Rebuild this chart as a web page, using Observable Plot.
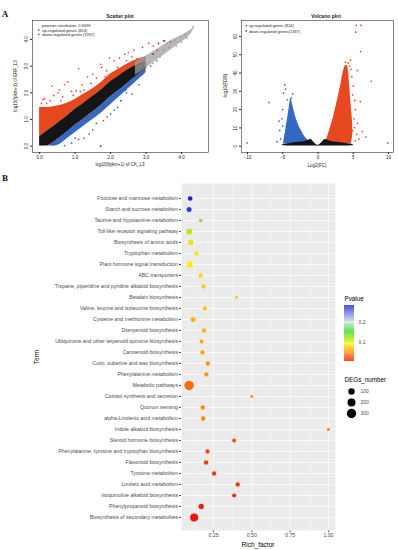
<!DOCTYPE html>
<html>
<head>
<meta charset="utf-8">
<script src="https://cdn.jsdelivr.net/npm/d3@7"></script>
<script src="https://cdn.jsdelivr.net/npm/@observablehq/plot@0.6"></script>
<style>
  html, body { margin: 0; padding: 0; background: #fff; }
  #fig { position: relative; width: 398px; height: 550px; overflow: hidden; background:#fff; }
  #fig > svg, #fig > figure { position: absolute; margin: 0; }
</style>
</head>
<body>
<div id="fig"></div>
<script>
// ================= DATA =================
// ---- Panel A: scatter plot (log10(fpkm+1) of CK_L3 vs treatment) ----
const scTicks = [0, 1, 2, 3, 4];
// dense bands read along x
const scBandX    = [0, 0.1, 0.25, 0.5, 0.75, 1.0, 1.25, 1.5, 1.75, 2.0, 2.25, 2.5, 2.75, 3.0];
const scRedTop   = [1.45, 1.45, 1.45, 1.5, 1.6, 1.75, 1.95, 2.15, 2.4, 2.7, 2.9, 3.1, 3.25, 3.35];
const scBlackTop = [0.35, 0.45, 0.6, 0.85, 1.1, 1.38, 1.62, 1.87, 2.12, 2.42, 2.65, 2.87, 3.05, 3.2];
const scBlackBot = [0, 0, 0.02, 0.25, 0.5, 0.78, 1.03, 1.28, 1.55, 1.85, 2.1, 2.38, 2.65, 2.9];
const scBlueBot  = [0, 0, 0, 0.02, 0.25, 0.5, 0.75, 1.0, 1.25, 1.55, 1.85, 2.15, 2.45, 2.75];
const scGreyX    = [2.7, 3.0, 3.3, 3.6, 3.9, 4.2, 4.35];
const scGreyBot  = [2.65, 2.92, 3.22, 3.5, 3.8, 4.1, 4.38];
const scGreyTop  = [3.15, 3.38, 3.62, 3.88, 4.08, 4.3, 4.45];
// sparse points
const scUpPts = [[0.05,1.6],[0.1,1.75],[0.14,1.78],[0.2,1.6],[0.3,1.7],[0.4,1.9],[0.52,2.0],[0.56,2.11],[0.65,1.85],
  [0.8,2.4],[0.9,2.05],[1.03,2.07],[1.1,2.9],[1.2,2.3],[1.35,2.6],[1.5,2.7],[1.6,2.55],[1.72,3.07],[1.75,2.95],
  [1.89,2.83],[1.97,3.31],[2.1,3.2],[2.25,3.3],[2.4,3.45],[2.5,3.5],[2.66,3.6],[2.75,3.27],[2.9,3.7],[3.08,3.86],
  [3.2,3.75],[3.31,3.6],[3.53,3.94],[3.69,3.9],[0.35,2.25],[0.7,2.3],[1.25,2.1],[1.45,2.35],[1.85,2.6],[2.2,2.95],
  [0.6,1.7],[0.95,1.9],[2.45,3.2],[2.6,3.35],[1.15,2.05]];
const scDownPts = [[1.25,0.3],[1.5,0.6],[1.8,0.95],[2.0,1.2],[2.2,1.45],[2.3,1.7],[2.45,2.0],[2.56,2.35],[2.7,2.5],
  [2.9,2.7],[3.13,3.0],[3.3,3.2],[0.9,0.12],[1.1,0.25],[1.4,0.45],[1.9,1.1],[2.6,1.95],[2.42,2.09],[2.28,1.71],
  [1.6,0.85],[2.1,1.35],[0.7,0.02],[1.0,0.3],[2.8,2.3]];
const scGreyPts = [[4.33,4.48],[4.24,4.27],[4.1,4.2],[3.95,4.1],[3.8,3.95],[3.65,3.7],[3.5,3.6],[4.0,3.9],[3.85,3.75],
  [3.2,3.1],[3.4,3.35],[3.0,2.95],[2.85,3.0],[4.15,4.05],[3.6,3.85]];
const scBlackPts = [[1.72,0.0],[3.35,3.85],[3.5,3.95],[3.2,3.45]];

// ---- Panel A: volcano plot (Log2(FC) vs -log10(FDR)) ----
const vTicksX = [-10, -5, 0, 5, 10];
const vTicksY = [0, 10, 20, 30, 40, 50, 60];
const vBlackX   = [-5, -4, -3, -2, -1.5, -1, -0.5, 0, 0.5, 1, 1.5, 2, 3, 4, 5];
const vBlackTop = [1.0, 1.5, 2.0, 2.4, 3.0, 3.6, 1.8, 0.5, 1.8, 3.6, 3.0, 2.4, 2.0, 1.5, 1.0];
const vBlackBot = [0.3, 0.15, 0.1, 0.1, 0.1, 0.1, 0.05, 0, 0.05, 0.1, 0.1, 0.1, 0.1, 0.15, 0.3];
const vBlueY = [1.3, 2.5, 4, 6, 8, 11, 14, 18, 22, 26];
const vBlueL = [-4.9, -4.85, -4.8, -4.7, -4.6, -4.5, -4.35, -4.2, -4.05, -3.9];
const vBlueR = [-1.0, -1.2, -1.6, -2.0, -2.3, -2.7, -3.0, -3.3, -3.55, -3.8];
const vRedY = [1.3, 3, 5, 8, 12, 16, 20, 25, 30, 35, 40, 44];
const vRedL = [1.0, 1.15, 1.35, 1.6, 1.9, 2.2, 2.45, 2.75, 3.05, 3.3, 3.55, 3.85];
const vRedR = [4.7, 4.8, 4.9, 4.95, 4.9, 4.85, 4.75, 4.65, 4.55, 4.45, 4.35, 4.2];
const vUpPts = [[5.43,66],[6.1,66],[5.34,62.3],[6.04,51.7],[5.57,41.4],[7.55,35.5],[6.0,24.4],[9.9,1.8],[4.48,43.8],
  [4.3,45.5],[4.7,42],[5.2,10.2],[4.96,8.4],[5.5,6.5],[5.8,4],[5.3,3],[5.1,15],[5.3,20],[4.9,28],[5.0,33],[4.8,38],
  [3.9,46],[6.3,8],[6.8,5],[5.6,12.5],[5.2,25],[4.6,47]];
const vDownPts = [[-10.06,1.8],[-6.94,23.9],[-4.72,33.5],[-4.6,31.2],[-5.52,13.7],[-5.43,8.6],[-4.62,4.9],[-3.77,26.3],
  [-4.34,25.4],[-5.0,20],[-5.1,15],[-5.3,4],[-4.9,29],[-3.6,28.5],[-5.8,2.5],[-5.0,11]];

// ---- Panel B: KEGG enrichment dot plot ----
const terms = [
  "Fructose and mannose metabolism",
  "Starch and sucrose metabolism",
  "Taurine and hypotaurine metabolism",
  "Toll-like receptor signaling pathway",
  "Biosynthesis of amino acids",
  "Tryptophan metabolism",
  "Plant hormone signal transduction",
  "ABC transporters",
  "Tropane, piperidine and pyridine alkaloid biosynthesis",
  "Betalain biosynthesis",
  "Valine, leucine and isoleucine biosynthesis",
  "Cysteine and methionine metabolism",
  "Diterpenoid biosynthesis",
  "Ubiquinone and other terpenoid-quinone biosynthesis",
  "Carotenoid biosynthesis",
  "Cutin, suberine and wax biosynthesis",
  "Phenylalanine metabolism",
  "Metabolic pathways",
  "Cortisol synthesis and secretion",
  "Quorum sensing",
  "alpha-Linolenic acid metabolism",
  "Indole alkaloid biosynthesis",
  "Steroid hormone biosynthesis",
  "Phenylalanine, tyrosine and tryptophan biosynthesis",
  "Flavonoid biosynthesis",
  "Tyrosine metabolism",
  "Linoleic acid metabolism",
  "Isoquinoline alkaloid biosynthesis",
  "Phenylpropanoid biosynthesis",
  "Biosynthesis of secondary metabolites"
];
const richFactor = [0.098, 0.091, 0.167, 0.093, 0.102, 0.139, 0.095, 0.167, 0.185, 0.40,
  0.193, 0.117, 0.189, 0.172, 0.178, 0.213, 0.204, 0.091, 0.50, 0.18,
  0.183, 1.0, 0.385, 0.211, 0.202, 0.254, 0.408, 0.385, 0.17, 0.124];
const pValue = [0.28, 0.27, 0.13, 0.115, 0.10, 0.088, 0.092, 0.083, 0.078, 0.078,
  0.075, 0.068, 0.066, 0.062, 0.060, 0.057, 0.055, 0.040, 0.055, 0.050,
  0.048, 0.045, 0.030, 0.027, 0.025, 0.023, 0.020, 0.018, 0.015, 0.010];
const degNumber = [33, 43, 8, 69, 53, 23, 85, 25, 22, 3,
  20, 43, 22, 16, 22, 24, 23, 310, 2, 22,
  24, 2, 15, 22, 30, 24, 22, 20, 55, 200];
const richTicks = [0.25, 0.5, 0.75, 1.0];
const richMinor = [0.125, 0.375, 0.625, 0.875];
const pvalueTicks = [0.1, 0.2];
const degLegend = [100, 200, 300];

// ================= DRAWING =================
const SANS = "Liberation Sans, Arial, Helvetica, sans-serif";
const RED = "#e8481f", BLUE = "#3567c3", BLACK = "#151515", GREY = "#9d9d9d";
const fig = document.getElementById("fig");
function place(el, left, top) { el.style.left = left + "px"; el.style.top = top + "px"; fig.appendChild(el); }
const pts = a => a.map(([x, y]) => ({x, y}));
const curve = "catmull-rom";

// ---- scatter ----
const scRows = scBandX.map((x, i) => ({x, redTop: scRedTop[i], blackTop: scBlackTop[i], blackBot: scBlackBot[i], blueBot: scBlueBot[i]}));
const scGreyRows = scGreyX.map((x, i) => ({x, lo: scGreyBot[i], hi: scGreyTop[i]}));
const scatter = Plot.plot({
  width: 212, height: 170,
  marginLeft: 32, marginRight: 4, marginTop: 20, marginBottom: 18,
  style: {fontFamily: SANS, fontSize: "4.5px", color: "#222", background: "transparent"},
  x: {domain: [-0.2, 4.76], ticks: scTicks, tickSize: 2, tickPadding: 0.8, label: null},
  y: {domain: [-0.24, 4.71], ticks: scTicks, tickSize: 2, tickPadding: 3, label: null, tickRotate: -90},
  marks: [
    Plot.areaY(scRows, {x: "x", y1: "blackTop", y2: "redTop", fill: RED, curve}),
    Plot.areaY(scRows, {x: "x", y1: "blueBot", y2: "blackBot", fill: BLUE, curve}),
    Plot.areaY(scRows, {x: "x", y1: "blackBot", y2: "blackTop", fill: BLACK, curve}),
    Plot.areaY(scGreyRows, {x: "x", y1: "lo", y2: "hi", fill: GREY, fillOpacity: 0.75, curve}),
    Plot.dot(pts(scUpPts), {x: "x", y: "y", r: 0.85, fill: RED}),
    Plot.dot(pts(scDownPts), {x: "x", y: "y", r: 0.85, fill: BLUE}),
    Plot.dot(pts(scGreyPts), {x: "x", y: "y", r: 0.85, fill: GREY}),
    Plot.dot(pts(scBlackPts), {x: "x", y: "y", r: 0.85, fill: "#333"}),
    Plot.frame({stroke: "#333", strokeWidth: 0.6})
  ]
});
place(scatter, 0, 0);

// ---- volcano ----
const vBlackRows = vBlackX.map((x, i) => ({x, lo: vBlackBot[i], hi: vBlackTop[i]}));
const vBlueRows = vBlueY.map((y, i) => ({y, l: vBlueL[i], r: vBlueR[i]}));
const vRedRows = vRedY.map((y, i) => ({y, l: vRedL[i], r: vRedR[i]}));
const volcano = Plot.plot({
  width: 186, height: 170,
  marginLeft: 29, marginRight: 5, marginTop: 20, marginBottom: 18,
  style: {fontFamily: SANS, fontSize: "4.5px", color: "#222", background: "transparent"},
  x: {domain: [-10.85, 10.71], ticks: vTicksX, tickSize: 2, tickPadding: 0.8, label: null},
  y: {domain: [-3.44, 68.7], ticks: vTicksY, tickSize: 2, tickPadding: 3, label: null, tickRotate: -90},
  marks: [
    Plot.areaX(vBlueRows, {y: "y", x1: "l", x2: "r", fill: BLUE, curve}),
    Plot.areaX(vRedRows, {y: "y", x1: "l", x2: "r", fill: RED, curve}),
    Plot.areaY(vBlackRows, {x: "x", y1: "lo", y2: "hi", fill: BLACK, curve}),
    Plot.dot(pts(vUpPts), {x: "x", y: "y", r: 0.85, fill: RED}),
    Plot.dot(pts(vDownPts), {x: "x", y: "y", r: 0.85, fill: BLUE}),
    Plot.frame({stroke: "#333", strokeWidth: 0.6})
  ]
});
place(volcano, 212, 0);

// ---- panel B ----
const colorOpts = {
  type: "linear",
  domain: [0.009, 0.05, 0.092, 0.155, 0.2, 0.281],
  range: ["#ee1010", "#ff8a00", "#ffee00", "#33dd22", "#c6dcea", "#1c1cd8"]
};
const rOpts = {type: "sqrt", domain: [0, 300], range: [1.2, 4.65]};
const rows = terms.map((term, i) => ({term, rich: richFactor[i], p: pValue[i], deg: degNumber[i]}));
const mainB = Plot.plot({
  width: 398, height: 380,
  marginLeft: 181, marginRight: 63, marginTop: 13, marginBottom: 20,
  style: {fontFamily: SANS, fontSize: "5.2px", color: "#4d4d4d", background: "transparent"},
  x: {domain: [0.0415, 1.046], ticks: richTicks, tickFormat: d3.format(".2f"), tickSize: 2, tickPadding: 1, label: null},
  y: {type: "point", domain: terms, range: [20, 354], padding: 0, tickSize: 2, tickPadding: 1.5, label: null},
  color: colorOpts,
  r: rOpts,
  marks: [
    Plot.frame({fill: "#ebebeb", stroke: "none"}),
    Plot.ruleX(richMinor, {stroke: "#fff", strokeWidth: 0.35}),
    Plot.ruleX(richTicks, {stroke: "#fff", strokeWidth: 0.75}),
    Plot.ruleY(terms, {stroke: "#fff", strokeWidth: 0.75}),
    Plot.dot(rows, {x: "rich", y: "term", r: "deg", fill: "p", stroke: "none"})
  ]
});
place(mainB, 0, 170);

// colour bar legend
const barN = 90, barLo = 0.009, barHi = 0.281, barStep = (barHi - barLo) / barN;
const barSteps = d3.range(barN).map(i => barLo + i * barStep);
const colorbar = Plot.plot({
  width: 34, height: 60,
  marginLeft: 0, marginRight: 24, marginTop: 2, marginBottom: 2,
  style: {fontFamily: SANS, fontSize: "5px", color: "#4d4d4d", background: "transparent"},
  x: {domain: [0, 1], axis: null},
  y: {domain: [barLo, barHi], axis: "right", ticks: pvalueTicks, tickFormat: d => String(d), tickSize: 0, tickPadding: 4, label: null},
  color: colorOpts,
  marks: [
    Plot.rect(barSteps, {x1: () => 0, x2: () => 1, y1: d => d, y2: d => d + barStep * 1.05, fill: d => d + barStep / 2}),
    Plot.tickY(pvalueTicks, {stroke: "#fff", strokeWidth: 0.5, inset: 0})
  ]
});
place(colorbar, 344, 303);

// size legend
const sizeLegend = Plot.plot({
  width: 40, height: 33,
  marginLeft: 0, marginRight: 0, marginTop: 0, marginBottom: 0,
  style: {fontFamily: SANS, fontSize: "5px", color: "#4d4d4d", background: "transparent"},
  x: {domain: [0, 1], range: [7, 40], axis: null},
  y: {type: "point", domain: degLegend, padding: 0.5, axis: null},
  r: rOpts,
  marks: [
    Plot.dot(degLegend, {x: () => 0, y: d => d, r: d => d, fill: "#000"}),
    Plot.text(degLegend, {x: () => 0, y: d => d, text: d => String(d), dx: 9, textAnchor: "start", fill: "#4d4d4d"})
  ]
});
place(sizeLegend, 344, 385);

// ---- overlay text (titles, labels, panel letters, legends for A) ----
const NS = "http://www.w3.org/2000/svg";
const ov = document.createElementNS(NS, "svg");
ov.setAttribute("width", 398); ov.setAttribute("height", 550);
ov.style.left = "0px"; ov.style.top = "0px"; ov.style.pointerEvents = "none";
function txt(s, x, y, o = {}) {
  const t = document.createElementNS(NS, "text");
  t.textContent = s;
  t.setAttribute("x", x); t.setAttribute("y", y);
  t.setAttribute("font-family", o.family || SANS);
  t.setAttribute("font-size", o.size || 5);
  t.setAttribute("font-weight", o.weight || "normal");
  t.setAttribute("fill", o.fill || "#222");
  t.setAttribute("text-anchor", o.anchor || "middle");
  t.setAttribute("dominant-baseline", "central");
  if (o.rotate) t.setAttribute("transform", `rotate(${o.rotate} ${x} ${y})`);
  ov.appendChild(t);
}
function bullet(x, y, color) {
  const c = document.createElementNS(NS, "circle");
  c.setAttribute("cx", x); c.setAttribute("cy", y); c.setAttribute("r", 0.9); c.setAttribute("fill", color);
  ov.appendChild(c);
}
const SERIF = "Liberation Serif, Times New Roman, serif";
txt("A", 5, 14, {family: SERIF, weight: "bold", size: 9, fill: "#111"});
txt("B", 5, 178, {family: SERIF, weight: "bold", size: 9, fill: "#111"});
txt("Scatter plot", 120, 15.7, {weight: "bold", size: 5});
txt("Volcano plot", 326, 15.5, {weight: "bold", size: 5});
// scatter legend
txt("pearson correlation: 0.9696", 41.7, 25.7, {anchor: "start", size: 4});
bullet(38.7, 30, RED);  txt("up-regulated genes (814)", 42.3, 30, {anchor: "start", size: 4});
bullet(38.7, 34.3, BLUE); txt("down-regulated genes (1337)", 42.3, 34.3, {anchor: "start", size: 4});
// volcano legend
bullet(246.3, 25.7, RED);  txt("up-regulated genes (814)", 249, 25.7, {anchor: "start", size: 4});
bullet(246.3, 31, BLUE); txt("down-regulated genes(1337)", 249, 31, {anchor: "start", size: 4});
// axis labels A
txt("log10(fpkm+1) of CK_L3", 120, 164, {size: 4.5});
txt("log10(fpkm+1) of ERF_L3", 15, 86, {size: 4.5, rotate: -90});
txt("Log2(FC)", 317, 165, {size: 4.5});
txt("-log10(FDR)", 225, 86, {size: 4.5, rotate: -90});
// panel B labels
txt("Term", 36, 357, {size: 6.5, fill: "#000", rotate: -90});
txt("Rich_factor", 258, 544, {size: 6.5, fill: "#000"});
txt("Pvalue", 344.5, 298, {size: 6.3, fill: "#000", anchor: "start"});
txt("DEGs_number", 344.5, 379, {size: 6.3, fill: "#000", anchor: "start"});
fig.appendChild(ov);
</script>
</body>
</html>
